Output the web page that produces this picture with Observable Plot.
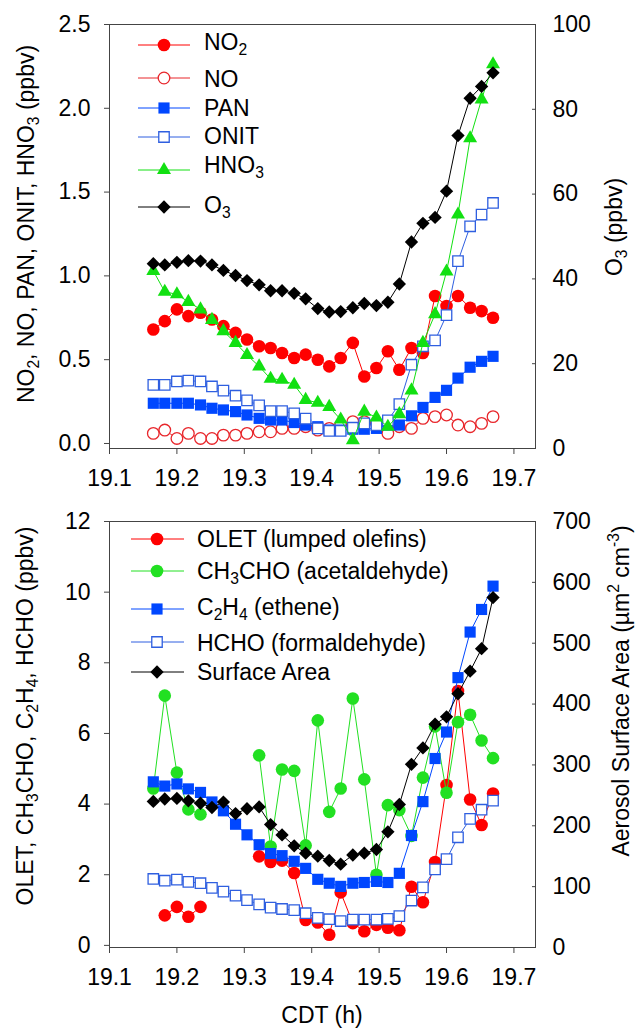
<!DOCTYPE html>
<html>
<head>
<meta charset="utf-8">
<script src="https://cdn.jsdelivr.net/npm/d3@7"></script>
<script src="https://cdn.jsdelivr.net/npm/@observablehq/plot@0.6"></script>
<style>
  body { margin: 0; background: #fff; font-family: Arial, "Liberation Sans", sans-serif; }
  #fig { position: relative; width: 635px; height: 1032px; overflow: hidden; background: #fff; }
  .layer { position: absolute; left: 0; }
  .txt { position: absolute; font-size: 23px; white-space: nowrap; color: #000; line-height: 1; }
  .rot { transform: translate(-50%, -50%) rotate(-90deg); }
  .hc { transform: translate(-50%, 0); }
  sub { font-size: 0.68em; vertical-align: -0.32em; line-height: 0; }
  sup { font-size: 0.68em; vertical-align: 0.62em; line-height: 0; }
</style>
</head>
<body>
<div id="fig"></div>
<script>
// Time of day (CDT, decimal hours) shared by both panels
const time = [19.165, 19.182, 19.200, 19.217, 19.235, 19.252, 19.269, 19.287, 19.304, 19.322,
              19.339, 19.356, 19.374, 19.391, 19.409, 19.426, 19.443, 19.461, 19.478, 19.496,
              19.513, 19.530, 19.548, 19.565, 19.583, 19.600, 19.617, 19.635, 19.652, 19.669];

// Upper panel: reactive nitrogen (ppbv) and ozone (ppbv, right axis)
const no2  = [0.68, 0.73, 0.80, 0.76, 0.78, 0.74, 0.70, 0.66, 0.62, 0.58, 0.57, 0.54, 0.51, 0.53, 0.50,
              0.46, 0.51, 0.60, 0.40, 0.45, 0.55, 0.44, 0.57, 0.54, 0.88, 0.82, 0.88, 0.81, 0.79, 0.75];
const no   = [0.06, 0.08, 0.03, 0.06, 0.03, 0.03, 0.05, 0.05, 0.06, 0.07, 0.07, 0.09, 0.09, 0.10, 0.08,
              0.09, 0.11, 0.13, 0.13, 0.12, 0.06, 0.10, 0.09, 0.15, 0.16, 0.17, 0.11, 0.10, 0.12, 0.16];
const pan  = [0.24, 0.24, 0.24, 0.24, 0.23, 0.21, 0.20, 0.19, 0.17, 0.15, 0.14, 0.14, 0.125, 0.11, 0.10,
              0.08, 0.08, 0.085, 0.085, 0.09, 0.11, 0.11, 0.165, 0.215, 0.275, 0.317, 0.39, 0.455, 0.49, 0.52];
const onit = [0.35, 0.35, 0.37, 0.375, 0.37, 0.34, 0.315, 0.285, 0.257, 0.227, 0.193, 0.193, 0.18, 0.148, 0.09,
              0.075, 0.075, 0.094, 0.12, 0.109, 0.138, 0.235, 0.47, 0.58, 0.615, 0.766, 1.088, 1.296, 1.366, 1.435];
const hno3 = [1.03, 0.905, 0.89, 0.845, 0.80, 0.737, 0.67, 0.60, 0.528, 0.46, 0.386, 0.38, 0.35, 0.26, 0.243,
              0.218, 0.143, 0.02, 0.19, 0.155, 0.10, 0.175, 0.317, 0.60, 0.772, 1.026, 1.366, 1.821, 2.053, 2.263];
const o3   = [43.6, 43.3, 43.9, 44.3, 44.2, 43.3, 42.0, 40.8, 39.6, 38.6, 37.2, 37.2, 36.6, 35.3, 33.0,
              32.2, 32.3, 33.2, 34.2, 33.7, 34.5, 38.8, 48.7, 53.1, 54.5, 60.7, 73.8, 82.6, 85.4, 88.6];

// Lower panel: VOCs (ppbv) and aerosol surface area (um2 cm-3, right axis); null = no sample
const olet    = [null, 0.85, 1.09, 0.81, 1.09, null, null, null, null, 2.52, 2.36, 2.40, 2.05, 0.72, 0.65,
                 0.30, 1.50, 0.63, 0.40, 0.58, 0.50, 0.43, 1.66, 1.22, 2.36, 4.54, 7.20, 4.13, 3.41, 4.30];
const ch3cho  = [4.44, 7.07, 4.89, 3.85, 3.71, null, null, null, null, 5.38, 2.80, 4.98, 4.94, 2.83, 6.37,
                 3.78, 4.44, 6.99, 4.70, 2.00, 3.97, 3.83, 3.10, 4.75, 6.20, 4.32, 6.32, 6.53, 5.80, 5.30];
const c2h4    = [4.63, 4.51, 4.57, 4.43, 4.33, 4.06, 3.81, 3.43, 3.13, 2.85, 2.60, 2.54, 2.38, 2.18, 1.87,
                 1.76, 1.67, 1.76, 1.78, 1.81, 1.78, 2.04, 3.11, 4.07, 5.29, 6.04, 7.58, 8.87, 9.51, 10.17];
const hcho    = [1.88, 1.83, 1.86, 1.80, 1.76, 1.63, 1.52, 1.41, 1.28, 1.16, 1.07, 1.03, 1.00, 0.91, 0.78,
                 0.74, 0.69, 0.73, 0.73, 0.73, 0.75, 0.83, 1.27, 1.64, 2.15, 2.44, 3.06, 3.58, 3.84, 4.10];
const surfArea = [240, 244, 245, 241, 237, 230, 239, 220, 228, 231, 202, 185, 167, 155, 150,
                  143, 137, 152, 155, 161, 190, 235, 301, 328, 367, 379, 417, 454, 491, 575];

// Axis ticks
const xTicks = [19.1, 19.2, 19.3, 19.4, 19.5, 19.6, 19.7];
const nTicksTop = [0, 0.5, 1.0, 1.5, 2.0, 2.5];
const o3Ticks = [0, 20, 40, 60, 80, 100];
const vocTicks = [0, 2, 4, 6, 8, 10, 12];
const saTicks = [0, 100, 200, 300, 400, 500, 600, 700];

// Series styling, in drawing (and legend) order
const topSeries = [
  {key: "no2",  values: no2,  color: "#ff0000", symbol: "circle",   open: false, r: 6.3, label: "NO<sub>2</sub>"},
  {key: "no",   values: no,   color: "#e8262b", symbol: "circle",   open: true,  r: 5.8, label: "NO"},
  {key: "pan",  values: pan,  color: "#0047ff", symbol: "square",   open: false, r: 6.3, label: "PAN"},
  {key: "onit", values: onit, color: "#2f5fe0", symbol: "square",   open: true,  r: 5.9, label: "ONIT"},
  {key: "hno3", values: hno3, color: "#12e012", symbol: "triangle", open: false, r: 5.2, label: "HNO<sub>3</sub>"}
];
const o3Series = {key: "o3", values: o3, color: "#000000", symbol: "diamond2", open: false, r: 6.0, label: "O<sub>3</sub>"};

const botSeries = [
  {key: "olet",   values: olet,   color: "#ff0000", symbol: "circle", open: false, r: 6.3, label: "OLET (lumped olefins)"},
  {key: "ch3cho", values: ch3cho, color: "#22e022", symbol: "circle", open: false, r: 6.3, label: "CH<sub>3</sub>CHO (acetaldehyde)"},
  {key: "c2h4",   values: c2h4,   color: "#0047ff", symbol: "square", open: false, r: 6.3, label: "C<sub>2</sub>H<sub>4</sub> (ethene)"},
  {key: "hcho",   values: hcho,   color: "#2f5fe0", symbol: "square", open: true,  r: 5.9, label: "HCHO (formaldehyde)"}
];
const saSeries = {key: "sa", values: surfArea, color: "#000000", symbol: "diamond2", open: false, r: 6.0, label: "Surface Area"};

// Build tidy rows from the arrays
function table(series) {
  return time.map((t, i) => {
    const row = {t};
    for (const s of series) row[s.key] = s.values[i];
    return row;
  });
}
const topRows = table([...topSeries, o3Series]);
const botRows = table([...botSeries, saSeries]);

const W = 635;
const xDomain = [19.1, 19.732];
const font = "Arial, 'Liberation Sans', sans-serif";
const plotStyle = {fontFamily: font, fontSize: "23px", color: "#000", background: "transparent", overflow: "visible"};
const axisGray = "#444";

function seriesMarks(rows, s) {
  return [
    Plot.line(rows, {x: "t", y: s.key, stroke: s.color, strokeWidth: 1}),
    Plot.dot(rows, {
      x: "t", y: s.key, symbol: s.symbol, r: s.r,
      fill: s.open ? "white" : s.color,
      stroke: s.open ? s.color : "none",
      strokeWidth: s.open ? 1.3 : 0
    })
  ];
}

const fig = d3.select("#fig");
function place(node, top) {
  node.classList.add("layer");
  node.style.top = top + "px";
  fig.node().appendChild(node);
}

// ---------- Upper panel ----------
const topH = 495;
const topMargins = {marginTop: 24, marginBottom: 47, marginLeft: 109, marginRight: 100};

const upperLeft = Plot.plot({
  width: W, height: topH, ...topMargins, style: plotStyle,
  x: {domain: xDomain},
  y: {domain: [-0.03, 2.5]},
  marks: [
    Plot.frame({stroke: axisGray}),
    Plot.axisX({ticks: xTicks, tickFormat: d3.format(".1f"), tickSize: 6, tickPadding: 15, label: null, stroke: axisGray}),
    Plot.axisY({ticks: nTicksTop, tickFormat: d3.format(".1f"), tickSize: 5, tickPadding: 14, label: null, stroke: axisGray}),
    ...topSeries.flatMap(s => seriesMarks(topRows, s))
  ]
});

const upperRight = Plot.plot({
  width: W, height: topH, ...topMargins, style: plotStyle,
  x: {domain: xDomain, axis: null},
  y: {domain: [0, 100]},
  marks: [
    Plot.axisY({anchor: "right", ticks: o3Ticks, tickFormat: d => d, tickSize: -4, tickPadding: 21, label: null, stroke: axisGray}),
    ...seriesMarks(topRows, o3Series)
  ]
});

place(upperLeft, 0);
place(upperRight, 0);

// ---------- Lower panel ----------
const botTop = 495;
const botH = 537;
const botMargins = {marginTop: 26, marginBottom: 85, marginLeft: 109, marginRight: 100};

const lowerLeft = Plot.plot({
  width: W, height: botH, ...botMargins, style: plotStyle,
  x: {domain: xDomain},
  y: {domain: [-0.06, 12]},
  marks: [
    Plot.frame({stroke: axisGray}),
    Plot.axisX({ticks: xTicks, tickFormat: d3.format(".1f"), tickSize: 6, tickPadding: 15, label: null, stroke: axisGray}),
    Plot.axisY({ticks: vocTicks, tickFormat: d => d, tickSize: 5, tickPadding: 14, label: null, stroke: axisGray}),
    ...botSeries.flatMap(s => seriesMarks(botRows, s))
  ]
});

const lowerRight = Plot.plot({
  width: W, height: botH, ...botMargins, style: plotStyle,
  x: {domain: xDomain, axis: null},
  y: {domain: [0, 700]},
  marks: [
    Plot.axisY({anchor: "right", ticks: saTicks, tickFormat: d => d, tickSize: -4, tickPadding: 21, label: null, stroke: axisGray}),
    ...seriesMarks(botRows, saSeries)
  ]
});

place(lowerLeft, botTop);
place(lowerRight, botTop);

// ---------- Legends (inside the plot frames) ----------
const overlay = fig.append("svg")
  .attr("width", W).attr("height", 1032)
  .style("position", "absolute").style("left", 0).style("top", 0);

const symbolMap = {circle: d3.symbolCircle, square: d3.symbolSquare, triangle: d3.symbolTriangle, diamond2: d3.symbolDiamond2};

function legend(items, markerY, textY, x0, x1, xm, xt) {
  items.forEach((s, i) => {
    const y = markerY[i];
    overlay.append("line")
      .attr("x1", x0).attr("x2", x1).attr("y1", y).attr("y2", y)
      .attr("stroke", s.color).attr("stroke-width", 1);
    overlay.append("path")
      .attr("transform", `translate(${xm},${y})`)
      .attr("d", d3.symbol(symbolMap[s.symbol], Math.PI * s.r * s.r)())
      .attr("fill", s.open ? "white" : s.color)
      .attr("stroke", s.open ? s.color : "none")
      .attr("stroke-width", s.open ? 1.3 : 0);
    fig.append("div").attr("class", "txt")
      .style("left", xt + "px").style("top", (textY[i] - 11.3) + "px")
      .html(s.label);
  });
}

legend([...topSeries, o3Series], [45, 78, 108, 137, 170, 207], [42, 79, 108, 136, 165, 205], 138, 190, 164, 204);
legend([...botSeries, saSeries], [539, 571, 609, 642, 672], [539, 571, 607, 643, 672], 131, 184, 157, 197);

// ---------- Axis titles ----------
function title(html, x, y, rotated) {
  fig.append("div").attr("class", "txt " + (rotated ? "rot" : "hc"))
    .style("left", x + "px").style("top", y + "px").html(html);
}
title("NO<sub>2</sub>, NO, PAN, ONIT, HNO<sub>3</sub> (ppbv)", 26, 224, true);
title("O<sub>3</sub> (ppbv)", 614, 227, true);
title("OLET, CH<sub>3</sub>CHO, C<sub>2</sub>H<sub>4</sub>, HCHO (ppbv)", 25, 716, true);
title("Aerosol Surface Area (&micro;m<sup>2</sup> cm<sup>-3</sup>)", 621, 691, true);
title("CDT (h)", 322, 1004, false);
</script>
</body>
</html>
